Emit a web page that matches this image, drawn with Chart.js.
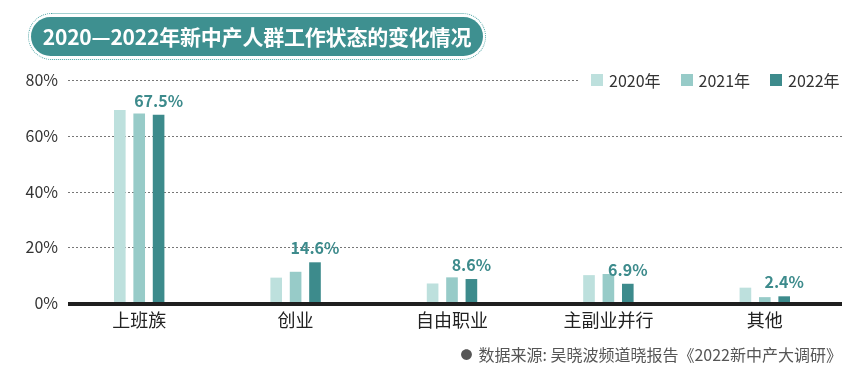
<!DOCTYPE html>
<html><head><meta charset="utf-8">
<script src="https://cdn.jsdelivr.net/npm/chart.js@4.4.1/dist/chart.umd.min.js"></script>
<style>
html,body{margin:0;padding:0;background:#fff;}
#wrap{position:relative;width:863px;height:389px;overflow:hidden;font-family:"Noto Sans CJK SC","Noto Sans",sans-serif;}
#c{position:absolute;left:0;top:0;}
#tOuter{position:absolute;left:28px;top:13px;width:456px;height:45px;border:1.5px dotted #4aa3a3;border-radius:24px;}
#tInner{position:absolute;left:31px;top:17px;width:452px;height:39px;background:#3e9090;border-radius:20px;color:#fff;font-weight:700;font-size:21px;line-height:39px;text-align:center;letter-spacing:-0.2px;}
#legend{position:absolute;left:580px;top:69px;background:#fff;height:22px;padding-left:11px;display:flex;align-items:center;font-size:16px;color:#333;}
#legend span.sw{display:inline-block;width:12px;height:12px;margin-right:6px;}
#legend .it{display:flex;align-items:center;margin-right:20px;}
#src{position:absolute;right:21px;top:342px;font-size:16px;color:#555;}
#src .dot{font-size:12px;margin-right:6px;vertical-align:1px;}
</style></head>
<body><div id="wrap">
<canvas id="c" width="863" height="389"></canvas>
<div id="tOuter"></div>
<div id="tInner">2020—2022年新中产人群工作状态的变化情况</div>
<div id="legend"></div>
<div id="src"><span class="dot">●</span>数据来源: 吴晓波频道晓报告《2022新中产大调研》</div>
</div>
<script>
const categories = ["上班族","创业","自由职业","主副业并行","其他"];
const seriesNames = ["2020年","2021年","2022年"];
const values2020 = [69.2, 9.1, 7.0, 10.0, 5.5];
const values2021 = [68.0, 11.2, 9.2, 10.4, 2.1];
const values2022 = [67.5, 14.6, 8.6, 6.9, 2.4];
const yTicks = [0, 20, 40, 60, 80];
const colors = ["#bde0dd","#97cbc8","#3d8b8c"];

const lg = document.getElementById('legend');
seriesNames.forEach((n,i)=>{
  const d=document.createElement('div');d.className='it';
  d.innerHTML='<span class="sw" style="background:'+colors[i]+'"></span>'+n;
  lg.appendChild(d);
});

const FONT = '"Noto Sans CJK SC","Noto Sans",sans-serif';

const gridPlugin = {
  id:'grid',
  beforeDatasetsDraw(chart){
    const ctx=chart.ctx, y=chart.scales.y;
    ctx.save();
    ctx.strokeStyle='#777';ctx.lineWidth=1;ctx.setLineDash([2,2]);
    yTicks.forEach(v=>{
      if(v===0) return;
      const py=Math.round(y.getPixelForValue(v))+0.5;
      ctx.beginPath();ctx.moveTo(68,py);ctx.lineTo(842,py);ctx.stroke();
    });
    ctx.restore();
  },
  afterDatasetsDraw(chart){
    const ctx=chart.ctx, y=chart.scales.y;
    ctx.save();
    const py=y.getPixelForValue(0);
    ctx.fillStyle='#1f1f1f';
    ctx.fillRect(68,py-1,774,4);
    const meta=chart.getDatasetMeta(2);
    ctx.font='bold 16px '+FONT;
    ctx.fillStyle='#3d8b8c';
    ctx.textAlign='center';ctx.textBaseline='bottom';
    meta.data.forEach((el,i)=>{
      ctx.fillText(values2022[i].toFixed(1)+'%', el.x, el.y-6);
    });
    ctx.restore();
  }
};

new Chart(document.getElementById('c'),{
  type:'bar',
  data:{labels:categories,datasets:[values2020,values2021,values2022].map((d,i)=>({
    label:seriesNames[i],data:d,backgroundColor:colors[i],borderWidth:0,
    categoryPercentage:0.372,barPercentage:0.6
  }))},
  options:{
    responsive:false,animation:false,
    devicePixelRatio:1,
    layout:{padding:{top:80,right:20,left:0,bottom:0}},
    plugins:{legend:{display:false},tooltip:{enabled:false}},
    scales:{
      x:{grid:{display:false,drawTicks:false},border:{display:false},
        ticks:{color:'#222',font:{family:FONT,size:18},padding:6},
        afterFit(s){s.height=86;}},
      y:{min:0,max:80,grid:{display:false,drawTicks:false},border:{display:false},
        afterBuildTicks(s){s.ticks=yTicks.map(v=>({value:v}));},
        ticks:{color:'#333',font:{family:FONT,size:16},padding:3,callback:v=>v+'%'},
        afterFit(s){s.width=61;}}
    }
  },
  plugins:[gridPlugin]
});
</script>
</body></html>
